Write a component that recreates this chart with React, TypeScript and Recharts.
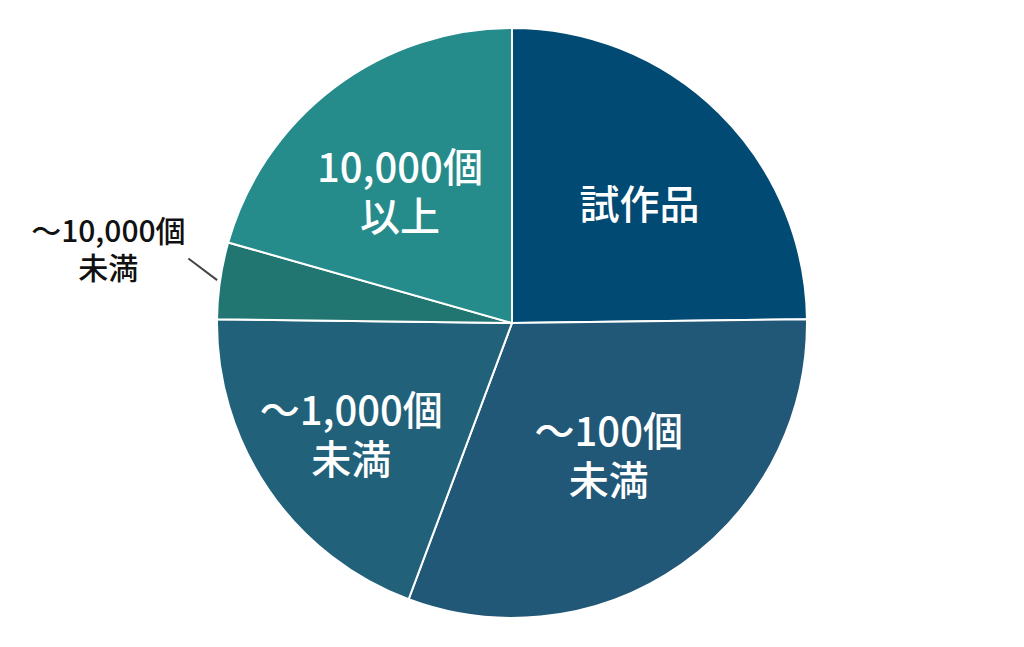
import React from 'react';
import { PieChart, Pie, Cell } from 'recharts';

const categories = ['試作品', '～100個未満', '～1,000個未満', '～10,000個未満', '10,000個以上'];
const shares = [24.8, 30.9, 19.5, 4.2, 20.6];
const labelLines = [
  ['試作品'],
  ['～100個', '未満'],
  ['～1,000個', '未満'],
  ['～10,000個', '未満'],
  ['10,000個', '以上'],
];

const colors = ['#014a74', '#215777', '#21627a', '#217672', '#268b8b'];
// label placement inside slices (fraction of radius, angle nudge in degrees)
const labelRadius = [0.595, 0.55, 0.66, 0, 0.59];
const labelNudge = [-2, 1.5, 0, 0, 3];
const FONT = '"Noto Sans CJK JP", "Noto Sans", sans-serif';
const RADIAN = Math.PI / 180;

const data = categories.map((name, i) => ({ name, value: shares[i] }));

function renderLabel(props: any) {
  const { cx, cy, midAngle, outerRadius, index } = props;
  const lines = labelLines[index];

  if (index === 3) {
    // small slice: label outside with a leader line
    const a1 = -midAngle * RADIAN;
    const a2 = -(midAngle - 3) * RADIAN;
    const sx = cx + (outerRadius + 3) * Math.cos(a1);
    const sy = cy + (outerRadius + 3) * Math.sin(a1);
    const ex = cx + (outerRadius + 35) * Math.cos(a2);
    const ey = cy + (outerRadius + 35) * Math.sin(a2);
    const tx = ex - 80;
    return (
      <g key={`lbl-${index}`}>
        <line x1={sx} y1={sy} x2={ex} y2={ey} stroke="#444" strokeWidth={2} />
        <text
          x={tx}
          y={ey - 29}
          textAnchor="middle"
          dominantBaseline="central"
          fill="#111"
          fontSize={30}
          fontWeight={500}
          fontFamily={FONT}
        >
          {lines.map((t, j) => (
            <tspan key={j} x={tx} dy={j === 0 ? 0 : 37}>
              {t}
            </tspan>
          ))}
        </text>
      </g>
    );
  }

  const r = outerRadius * labelRadius[index];
  const ang = -(midAngle + labelNudge[index]) * RADIAN;
  const x = cx + r * Math.cos(ang);
  const y = cy + r * Math.sin(ang);
  const lh = 49;
  const y0 = y - ((lines.length - 1) * lh) / 2;
  return (
    <text
      key={`lbl-${index}`}
      x={x}
      y={y0}
      textAnchor="middle"
      dominantBaseline="central"
      fill="#fff"
      fontSize={40}
      fontWeight={500}
      fontFamily={FONT}
    >
      {lines.map((t, j) => (
        <tspan key={j} x={x} dy={j === 0 ? 0 : lh}>
          {t}
        </tspan>
      ))}
    </text>
  );
}

export default function App() {
  return (
    <div style={{ position: 'absolute', left: 0, top: 0, width: 1024, height: 647, background: '#fff' }}>
      <PieChart width={1024} height={647} margin={{ top: 0, right: 0, bottom: 0, left: 0 }}>
        <Pie
          data={data}
          dataKey="value"
          nameKey="name"
          cx={512}
          cy={323}
          outerRadius={295}
          startAngle={90}
          endAngle={-270}
          stroke="#fff"
          strokeWidth={2}
          label={renderLabel}
          labelLine={false}
          isAnimationActive={false}
        >
          {data.map((d, i) => (
            <Cell key={d.name} fill={colors[i]} />
          ))}
        </Pie>
      </PieChart>
    </div>
  );
}
